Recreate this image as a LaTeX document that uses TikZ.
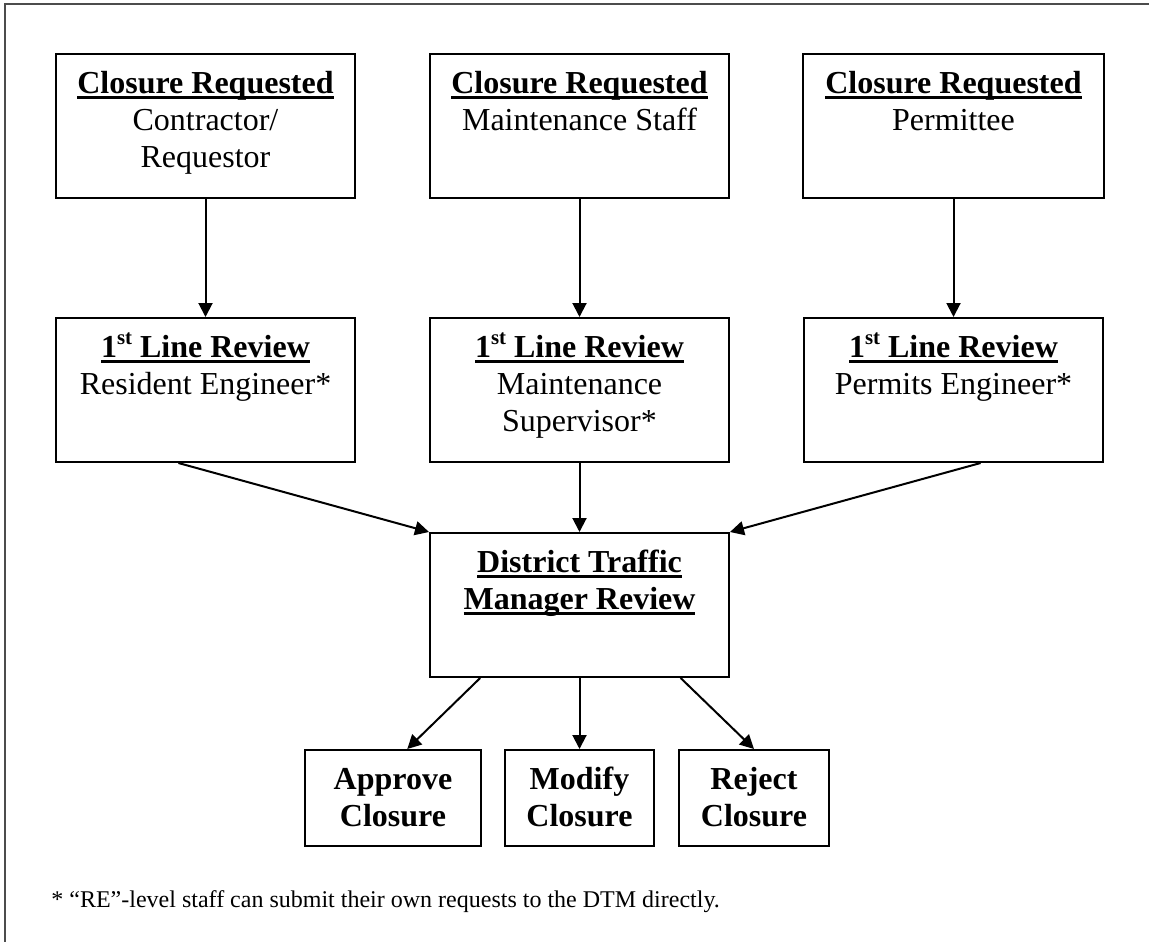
\documentclass[tikz,border=0pt]{standalone}
\usepackage{fontspec}
\setmainfont{Liberation Serif}
\usetikzlibrary{arrows.meta,calc}
\newcommand{\ulbar}[1]{\setbox0=\hbox{#1}\rlap{\rule[-3pt]{\wd0}{1.5pt}}\box0}
\newcommand{\firstst}{1\raisebox{6.5pt}{\fontsize{10.4}{10.4}\selectfont st}}
\newcommand{\tstrut}{\rule{0pt}{14.26pt}}
\begin{document}
\begin{tikzpicture}[x=0.5pt,y=-0.5pt,
  box/.style={draw, line width=1pt, inner sep=0pt, minimum height=72pt},
  smallbox/.style={draw, line width=1pt, inner sep=0pt, minimum height=48pt},
  txt/.style={anchor=north, inner sep=0pt, align=center, font=\fontsize{16}{18.4}\selectfont},
  btxt/.style={anchor=north, inner sep=0pt, align=center, font=\fontsize{16}{18.4}\selectfont\bfseries},
  arr/.style={line width=1pt, -{Triangle[length=7pt,width=7pt]}}]
\useasboundingbox (0,0) rectangle (1149,941);
\draw[line width=0.75pt, black!70] (5,960) -- (5,4) -- (1160,4);

% top row
\node[box, minimum width=149.5pt] (c1) at (205.5,126) {};
\node[box, minimum width=149.5pt] (c2) at (579.5,126) {};
\node[box, minimum width=150.5pt] (c3) at (953.5,126) {};
\node[txt] (c1t) at ($(c1.north)+(0,11.5)$) {\tstrut\ulbar{\bfseries Closure Requested}\\Contractor/\\Requestor};
\node[txt] (c2t) at ($(c2.north)+(0,11.5)$) {\tstrut\ulbar{\bfseries Closure Requested}\\Maintenance Staff};
\node[txt] (c3t) at ($(c3.north)+(0,11.5)$) {\tstrut\ulbar{\bfseries Closure Requested}\\Permittee};

% second row
\node[box, minimum width=149.5pt] (r1) at (205.5,390) {};
\node[box, minimum width=149.5pt] (r2) at (579.5,390) {};
\node[box, minimum width=149.5pt] (r3) at (953.5,390) {};
\node[txt] (r1t) at ($(r1.north)+(0,11.5)$) {\tstrut\ulbar{\bfseries\firstst{} Line Review}\\Resident Engineer*};
\node[txt] (r2t) at ($(r2.north)+(0,11.5)$) {\tstrut\ulbar{\bfseries\firstst{} Line Review}\\Maintenance\\Supervisor*};
\node[txt] (r3t) at ($(r3.north)+(0,11.5)$) {\tstrut\ulbar{\bfseries\firstst{} Line Review}\\Permits Engineer*};

% DTM
\node[box, minimum width=149.5pt] (dtm) at (579.5,605) {};
\node[txt] (dtmt) at ($(dtm.north)+(0,11.5)$) {\tstrut\ulbar{\bfseries District Traffic}\\\ulbar{\bfseries Manager Review}};

% bottom row
\node[smallbox, minimum width=88pt] (a1) at (393,798) {};
\node[smallbox, minimum width=74.5pt] (m1) at (579.5,798) {};
\node[smallbox, minimum width=75pt] (j1) at (754,798) {};
\node[btxt] (a1t) at ($(a1.north)+(0,11.5)$) {\tstrut Approve\\Closure};
\node[btxt] (m1t) at ($(m1.north)+(0,11.5)$) {\tstrut Modify\\Closure};
\node[btxt] (j1t) at ($(j1.north)+(0,11.5)$) {\tstrut Reject\\Closure};

% arrows
\draw[arr] (c1) -- (r1);
\draw[arr] (c2) -- (r2);
\draw[arr] (c3) -- (r3);
\draw[arr] ($(r1.south west)!0.41!(r1.south east)$) -- (dtm.north west);
\draw[arr] (r2) -- (dtm);
\draw[arr] ($(r3.south west)!0.59!(r3.south east)$) -- (dtm.north east);
\draw[arr] ($(dtm.south west)!0.17!(dtm.south east)$) -- ($(a1.north west)!0.58!(a1.north east)$);
\draw[arr] (dtm) -- (m1);
\draw[arr] ($(dtm.south west)!0.836!(dtm.south east)$) -- (j1.north);

% footnote
\node[anchor=base west, inner sep=0pt, font=\fontsize{12}{14}\selectfont] (fn) at (51,907) {* “RE”-level staff can submit their own requests to the DTM directly.};
\end{tikzpicture}
\end{document}
